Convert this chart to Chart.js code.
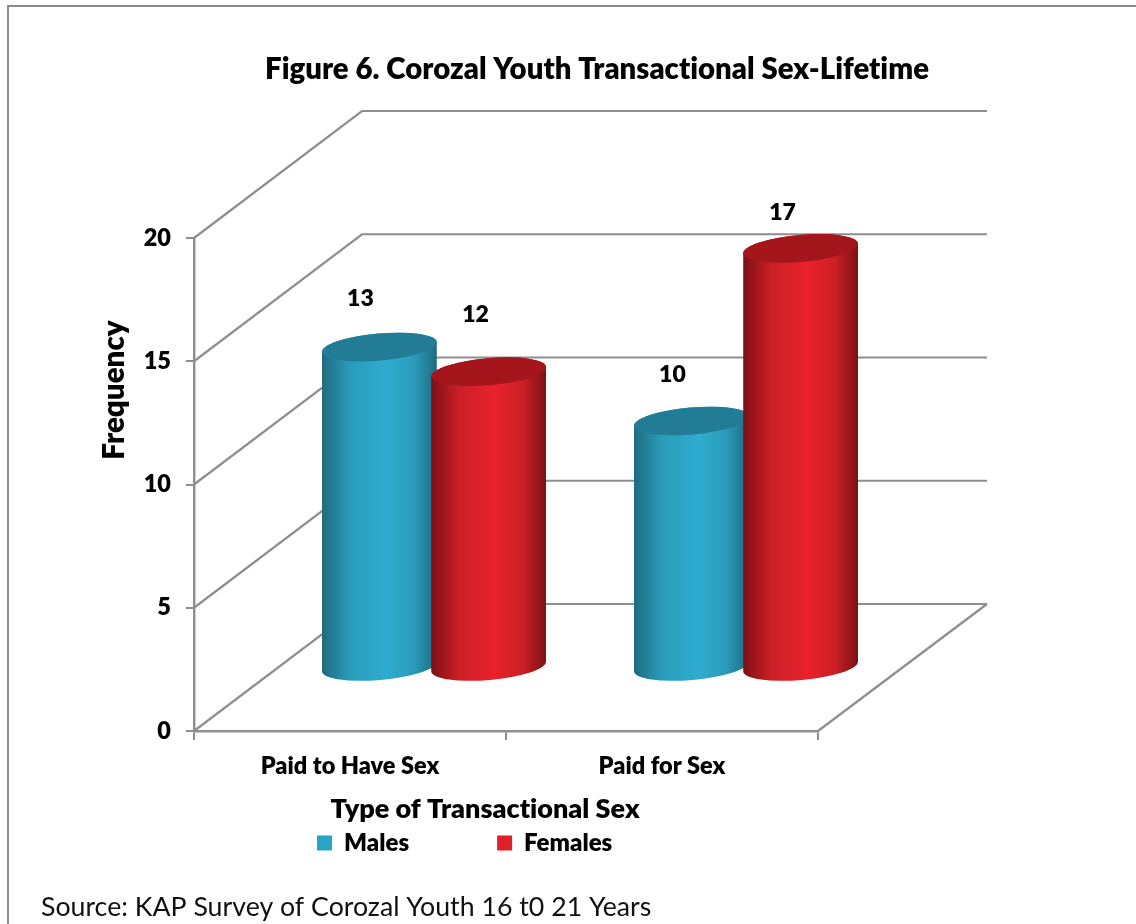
<!DOCTYPE html>
<html>
<head>
<meta charset="utf-8">
<title>Corozal Youth Transactional Sex</title>
<script src="https://cdn.jsdelivr.net/npm/chart.js@4"></script>
<style>
  html, body { margin: 0; padding: 0; background: #fff; overflow: hidden; }
  #wrap { position: relative; width: 1136px; height: 924px; }
</style>
</head>
<body>
<div id="wrap"><canvas id="chart" width="1136" height="924"></canvas></div>
<script>
// Survey counts
const categories = ['Paid to Have Sex', 'Paid for Sex'];
const males = [13, 10];
const females = [12, 17];
const yTicks = [0, 5, 10, 15, 20];

const titleText = 'Figure 6. Corozal Youth Transactional Sex-Lifetime';
const xTitleText = 'Type of Transactional Sex';
const yTitleText = 'Frequency';
const sourceText = 'Source: KAP Survey of Corozal Youth 16 t0 21 Years';

// Box projection: how far the back wall sits from the front axes
const DEPTH_X = 168;
const DEPTH_Y = 127;
const WALL_RIGHT = 987;
const AXIS_BOTTOM = 731;
const LINE_GREY = '#8e8e8e';
const FONT = 'Lato, sans-serif';
const HEAVY = 800;
const TILT = -5 * Math.PI / 180;
const RY = 13.5;

const palette = {
  Males:   { edge: '#1f6a80', shade: '#2a9bb9', mid: '#2faccf', cap: '#227c95', swatch: '#2ba3c4' },
  Females: { edge: '#7a1014', shade: '#cb1f26', mid: '#e9222d', cap: '#a4161c', swatch: '#e01f28' }
};
// Value label nudges relative to each cylinder's top centre, per series then category
const labelNudge = {
  Males:   [[-19, -48], [-19, -46]],
  Females: [[-13, -57], [-18, -36]]
};

const Chart3DBox = {
  id: 'box3d',
  afterLayout(chart) {
    // Title and legend are centred on the whole figure, not on the front face
    const t = chart.titleBlock;
    t.left = 265; t.right = 929;
    const lg = chart.legend;
    const pad = lg.options.labels.padding;
    const h = lg.height, w = lg.width;
    lg.left = 317 - pad; lg.right = lg.left + w;
    lg.top = 831 - pad; lg.bottom = lg.top + h;
  },
  beforeDraw(chart) {
    const c = chart.ctx;
    // Spell every word with plain letters, no joined glyphs
    c.letterSpacing = '0.01px';
    c.save();
    c.strokeStyle = '#8a8a8a';
    c.lineWidth = 2;
    c.beginPath();
    c.moveTo(8, 924); c.lineTo(8, 6); c.lineTo(1136, 6);
    c.stroke();
    c.restore();
  },
  beforeDatasetsDraw(chart) {
    const c = chart.ctx;
    const { left, right, bottom } = chart.chartArea;
    const y = chart.scales.y;
    c.save();
    c.strokeStyle = LINE_GREY;
    c.lineWidth = 2.2;
    yTicks.forEach(v => {
      const py = y.getPixelForValue(v);
      c.beginPath();
      c.moveTo(left, py);
      c.lineTo(left + DEPTH_X, py - DEPTH_Y);
      c.lineTo(WALL_RIGHT, py - DEPTH_Y);
      c.stroke();
    });
    // Right edge of the floor
    c.beginPath();
    c.moveTo(right, bottom);
    c.lineTo(WALL_RIGHT, bottom - DEPTH_Y);
    c.stroke();
    c.restore();
  },
  // The flat bars are replaced by cylinders below
  beforeDatasetDraw() { return false; },
  afterDatasetsDraw(chart) {
    const c = chart.ctx;
    chart.data.datasets.forEach((ds, di) => {
      const colors = palette[ds.label];
      chart.getDatasetMeta(di).data.forEach(bar => drawCylinder(c, bar, colors));
    });
  },
  afterDraw(chart) {
    const c = chart.ctx;
    c.save();
    c.fillStyle = '#000';
    c.textAlign = 'center';
    c.textBaseline = 'middle';

    // Value labels
    c.font = HEAVY + ' 23px ' + FONT;
    chart.data.datasets.forEach((ds, di) => {
      chart.getDatasetMeta(di).data.forEach((bar, i) => {
        const n = labelNudge[ds.label][i];
        c.fillText(String(ds.data[i]), bar.x + DEPTH_X / 2 + n[0], bar.y - DEPTH_Y / 2 + n[1]);
      });
    });

    // Axis titles
    c.font = HEAVY + ' 27px ' + FONT;
    c.fillText(xTitleText, 485, 809);
    c.save();
    c.font = HEAVY + ' 29.5px ' + FONT;
    c.translate(114, 390);
    c.rotate(-Math.PI / 2);
    c.fillText(yTitleText, 0, 0);
    c.restore();

    // Source line
    c.font = '26.7px ' + FONT;
    c.textAlign = 'left';
    c.fillStyle = '#111';
    c.fillText(sourceText, 41, 907);
    c.restore();
  }
};

// Tilted-ellipse cylinder standing halfway into the box floor
function drawCylinder(c, bar, colors) {
  const rx = bar.width / 2;
  const cx = bar.x + DEPTH_X / 2;
  const topY = bar.y - DEPTH_Y / 2;
  const baseY = bar.base - DEPTH_Y / 2;
  const grad = c.createLinearGradient(cx - rx, 0, cx + rx, 0);
  grad.addColorStop(0, colors.edge);
  grad.addColorStop(0.24, colors.shade);
  grad.addColorStop(0.56, colors.mid);
  grad.addColorStop(0.8, colors.shade);
  grad.addColorStop(1, colors.edge);
  c.save();
  c.fillStyle = grad;
  c.beginPath();
  c.ellipse(cx, baseY, rx, RY, TILT, 0, Math.PI);
  c.ellipse(cx, topY, rx, RY, TILT, Math.PI, 0);
  c.closePath();
  c.fill();
  c.fillStyle = colors.cap;
  c.beginPath();
  c.ellipse(cx, topY, rx, RY, TILT, 0, Math.PI * 2);
  c.fill();
  c.restore();
}

new Chart(document.getElementById('chart'), {
  type: 'bar',
  plugins: [Chart3DBox],
  data: {
    labels: categories,
    datasets: [
      { label: 'Males', data: males, backgroundColor: palette.Males.swatch },
      { label: 'Females', data: females, backgroundColor: palette.Females.swatch }
    ]
  },
  options: {
    responsive: false,
    animation: false,
    categoryPercentage: 0.7,
    barPercentage: 1.055,
    layout: { padding: { left: 0, right: 318, top: 52, bottom: 0 } },
    plugins: {
      tooltip: { enabled: false },
      title: {
        display: true,
        text: titleText,
        color: '#000',
        font: { family: FONT, size: 29.5, weight: HEAVY },
        padding: { top: 0, bottom: 150.6 }
      },
      legend: {
        display: true,
        position: 'bottom',
        align: 'start',
        labels: {
          boxWidth: 15,
          boxHeight: 15,
          padding: 88,
          color: '#000',
          font: { family: FONT, size: 24, weight: HEAVY }
        }
      }
    },
    scales: {
      x: {
        // Reserve whatever the legend leaves so the floor line stays put
        afterFit: s => { s.height = 924 - AXIS_BOTTOM - ((s.chart.legend && s.chart.legend.height) || 116); },
        grid: { drawOnChartArea: false, color: LINE_GREY, lineWidth: 2, tickLength: 9 },
        border: { color: LINE_GREY, width: 2.4 },
        ticks: { color: '#000', padding: 12, maxRotation: 0, font: { family: FONT, size: 23.5, weight: HEAVY } }
      },
      y: {
        min: 0,
        max: 20,
        afterBuildTicks: s => { s.ticks = yTicks.map(v => ({ value: v })); },
        afterFit: s => { s.width = 194; },
        grid: { drawOnChartArea: false, color: LINE_GREY, lineWidth: 2, tickLength: 8 },
        border: { color: LINE_GREY, width: 2.4 },
        ticks: { color: '#000', padding: 15, font: { family: FONT, size: 23.5, weight: HEAVY } }
      }
    }
  }
});
</script>
</body>
</html>
